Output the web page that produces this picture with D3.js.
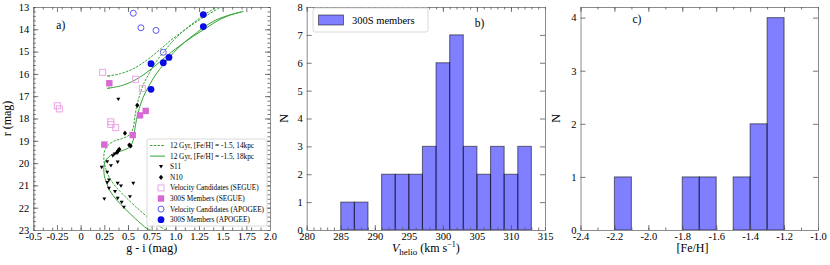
<!DOCTYPE html>
<html>
<head>
<meta charset="utf-8">
<script src="https://cdn.jsdelivr.net/npm/d3@7"></script>
<style>
body { margin: 0; background: #fff; }
svg text { font-family: "Liberation Serif", "DejaVu Serif", serif; fill: #000; }
</style>
</head>
<body>
<div id="chart"></div>
<script>
// ---------- panel a) colour-magnitude diagram (g-i, r) ----------
var s11 = [[0.398,17.14],[0.281,19.94],[0.32,20.12],[0.391,19.96],[0.222,20.19],[0.281,20.41],
    [0.299,20.76],[0.281,20.88],[0.391,20.91],[0.426,21.03],[0.556,20.91],[0.299,21.13],[0.363,21.28],
    [0.521,21.51],[0.391,21.58],[0.25,21.61],[0.433,21.76],[0.457,21.98],[0.36,19.6],[0.34,19.68]];
var n10 = [[0.598,17.41],[0.468,18.66],[0.514,19.19],[0.528,19.23],[0.408,19.38],[0.398,19.44],[0.384,19.52]];
var segueCand = [[0.233,15.93],[0.581,16.24],[0.651,16.66],[-0.246,17.43],[-0.225,17.57],
    [0.317,18.15],[0.32,18.27],[0.37,18.41]];
var segueMem = [[0.303,16.42],[0.627,17.86],[0.687,17.66],[0.55,18.74],[0.25,19.17]];
var apogeeCand = [[0.556,13.28],[0.637,13.93],[0.796,14.05],[0.873,15.03]];
var apogeeMem = [[1.296,13.34],[1.296,13.88],[0.743,15.54],[0.873,15.5],[0.933,15.26],[0.743,16.69]];

// isochrones: main sequence + RGB, and HB/AGB, for 14 kpc (dashed) and 18 kpc (solid)
var iso14Rgb = [[0.9,23.0],[0.8,22.75],[0.7,22.4],[0.58,21.95],[0.47,21.5],[0.38,21.1],[0.31,20.7],
    [0.27,20.3],[0.25,20.0],[0.245,19.75],[0.25,19.5],[0.28,19.25],[0.35,19.02],[0.45,18.88],
    [0.52,18.72],[0.555,18.42],[0.57,18.0],[0.59,17.5],[0.62,17.0],[0.66,16.5],[0.72,16.0],
    [0.79,15.5],[0.88,15.0],[0.98,14.5],[1.1,14.02],[1.22,13.62],[1.3,13.36],[1.44,13.0]];
var iso14Hb = [[0.31,16.08],[0.28,16.1],[0.42,15.99],[0.55,15.78],[0.7,15.38],[0.84,14.9],[0.95,14.5],
    [1.05,14.18],[1.19,13.76],[1.33,13.38],[1.48,13.0]];
var iso18Rgb = [[0.74,23.0],[0.7,22.93],[0.58,22.5],[0.47,22.05],[0.38,21.65],[0.31,21.25],[0.27,20.85],
    [0.25,20.55],[0.245,20.3],[0.25,20.05],[0.28,19.8],[0.35,19.57],[0.45,19.43],[0.52,19.27],
    [0.555,18.97],[0.57,18.55],[0.59,18.05],[0.62,17.55],[0.66,17.05],[0.72,16.55],[0.79,16.05],
    [0.88,15.55],[0.98,15.05],[1.1,14.57],[1.22,14.17],[1.3,13.91],[1.42,13.6],[1.55,13.39],[1.72,13.2]];
var iso18Hb = [[0.31,16.63],[0.28,16.65],[0.42,16.54],[0.55,16.33],[0.7,15.93],[0.84,15.45],[0.95,15.05],
    [1.05,14.73],[1.19,14.31],[1.33,13.93],[1.47,13.56],[1.6,13.33],[1.7,13.22]];

var aXTicks = [-0.5,-0.25,0,0.25,0.5,0.75,1.0,1.25,1.5,1.75,2.0];
var aXTickLabels = ["-0.5","-0.25","0","0.25","0.5","0.75","1.0","1.25","1.5","1.75","2.0"];
var aYTicks = [13,14,15,16,17,18,19,20,21,22,23];

// ---------- panel b) velocity histogram ----------
var vBinStart = [285,287,291,293,295,297,299,301,303,305,307,309,311];
var vCounts = [1,1,2,2,2,3,6,7,3,2,3,2,3];
var vBinWidth = 2;
var bXTicks = [280,285,290,295,300,305,310,315];
var bYTicks = [0,1,2,3,4,5,6,7,8];

// ---------- panel c) metallicity histogram ----------
var fehBinStart = [-2.2,-1.8,-1.7,-1.5,-1.4,-1.3];
var fehCounts = [1,1,1,1,2,4];
var fehBinWidth = 0.1;
var cXTicks = [-2.4,-2.2,-2.0,-1.8,-1.6,-1.4,-1.2,-1.0];
var cXTickLabels = ["-2.4","-2.2","-2.0","-1.8","-1.6","-1.4","-1.2","-1.0"];
var cYTicks = [0,1,2,3,4];

var W = 830, H = 265;
var svg = d3.select("#chart").append("svg")
    .attr("width", W).attr("height", H);

var tickFont = "10.5px", labelFont = "12px";

function range(a, b, step) {
    var out = [];
    var n = Math.round((b - a) / step);
    for (var i = 0; i <= n; i++) out.push(+(a + i * step).toFixed(6));
    return out;
}

// frame with inward ticks on all four sides
function drawFrame(g, x, y, w, h, o) {
    g.append("g").attr("transform", "translate(0," + h + ")")
        .call(d3.axisBottom(x).tickValues(o.xTicks).tickSize(-5).tickSizeOuter(0).tickPadding(3)
            .tickFormat(function (d, i) { return o.xLabels[i]; }));
    g.append("g")
        .call(d3.axisLeft(y).tickValues(o.yTicks).tickSize(-5).tickSizeOuter(0).tickPadding(4)
            .tickFormat(function (d, i) { return o.yLabels[i]; }));
    g.append("g")
        .call(d3.axisTop(x).tickValues(o.xTicks).tickSize(-5).tickSizeOuter(0).tickFormat(""));
    g.append("g").attr("transform", "translate(" + w + ",0)")
        .call(d3.axisRight(y).tickValues(o.yTicks).tickSize(-5).tickSizeOuter(0).tickFormat(""));
    if (o.xMinor) {
        g.append("g").attr("transform", "translate(0," + h + ")")
            .call(d3.axisBottom(x).tickValues(o.xMinor).tickSize(-2.5).tickSizeOuter(0).tickFormat(""));
        g.append("g")
            .call(d3.axisTop(x).tickValues(o.xMinor).tickSize(-2.5).tickSizeOuter(0).tickFormat(""));
    }
    if (o.yMinor) {
        g.append("g")
            .call(d3.axisLeft(y).tickValues(o.yMinor).tickSize(-2.5).tickSizeOuter(0).tickFormat(""));
        g.append("g").attr("transform", "translate(" + w + ",0)")
            .call(d3.axisRight(y).tickValues(o.yMinor).tickSize(-2.5).tickSizeOuter(0).tickFormat(""));
    }
    g.selectAll(".domain").attr("stroke", "#8c8c8c").attr("stroke-width", 1);
    g.selectAll(".tick line").attr("stroke", "#555").attr("stroke-width", 0.8);
    g.selectAll(".tick text").style("font-size", tickFont)
        .style("font-family", "'Liberation Serif', serif").attr("fill", "#000");
}

function trianglePath(cx, cy, s) {
    return "M" + (cx - s) + "," + (cy - s * 0.8) + "L" + (cx + s) + "," + (cy - s * 0.8) +
        "L" + cx + "," + (cy + s * 0.9) + "Z";
}
function diamondPath(cx, cy, s) {
    return "M" + cx + "," + (cy - s) + "L" + (cx + s * 0.8) + "," + cy + "L" + cx + "," + (cy + s) +
        "L" + (cx - s * 0.8) + "," + cy + "Z";
}

var green = "#36a336";
var pink = "#d868d4";
var pinkLight = "#e9a6e6";
var blue = "#0a0ae6";
var blueLight = "#5a5af0";

// ================= panel a =================
(function () {
    var left = 33.3, top = 7, w = 270 - 33.3, h = 230 - 7;
    var g = svg.append("g").attr("transform", "translate(" + left + "," + top + ")");
    var x = d3.scaleLinear().domain([-0.5, 2.0]).range([0, w]);
    var y = d3.scaleLinear().domain([13, 23]).range([0, h]);

    var clip = g.append("clipPath").attr("id", "clipA");
    clip.append("rect").attr("width", w).attr("height", h);
    var plot = g.append("g").attr("clip-path", "url(#clipA)");

    var line = d3.line().x(function (d) { return x(d[0]); }).y(function (d) { return y(d[1]); })
        .curve(d3.curveCatmullRom.alpha(0.5));
    [iso14Rgb, iso14Hb].forEach(function (p) {
        plot.append("path").attr("d", line(p)).attr("fill", "none").attr("stroke", green)
            .attr("stroke-width", 1).attr("stroke-dasharray", "2.5,1.2");
    });
    [iso18Rgb, iso18Hb].forEach(function (p) {
        plot.append("path").attr("d", line(p)).attr("fill", "none").attr("stroke", green)
            .attr("stroke-width", 1);
    });

    plot.selectAll(".s11").data(s11).enter().append("path")
        .attr("d", function (d) { return trianglePath(x(d[0]), y(d[1]), 2); })
        .attr("fill", "#000");
    plot.selectAll(".n10").data(n10).enter().append("path")
        .attr("d", function (d) { return diamondPath(x(d[0]), y(d[1]), 2.6); })
        .attr("fill", "#000");
    plot.selectAll(".sc").data(segueCand).enter().append("rect")
        .attr("x", function (d) { return x(d[0]) - 3; }).attr("y", function (d) { return y(d[1]) - 3; })
        .attr("width", 6).attr("height", 6).attr("fill", "none").attr("stroke", pinkLight).attr("stroke-width", 1);
    plot.selectAll(".sm").data(segueMem).enter().append("rect")
        .attr("x", function (d) { return x(d[0]) - 3.2; }).attr("y", function (d) { return y(d[1]) - 3.2; })
        .attr("width", 6.4).attr("height", 6.4).attr("fill", pink);
    plot.selectAll(".ac").data(apogeeCand).enter().append("circle")
        .attr("cx", function (d) { return x(d[0]); }).attr("cy", function (d) { return y(d[1]); })
        .attr("r", 3).attr("fill", "none").attr("stroke", blueLight).attr("stroke-width", 1);
    plot.selectAll(".am").data(apogeeMem).enter().append("circle")
        .attr("cx", function (d) { return x(d[0]); }).attr("cy", function (d) { return y(d[1]); })
        .attr("r", 3.4).attr("fill", blue);

    drawFrame(g, x, y, w, h, {
        xTicks: aXTicks, xLabels: aXTickLabels, xMinor: range(-0.5, 2.0, 0.1),
        yTicks: aYTicks, yLabels: aYTicks.map(String), yMinor: range(13, 23, 0.2)
    });

    g.append("text").attr("x", 23).attr("y", 22).style("font-size", "11.5px").text("a)");
    g.append("text").attr("x", w / 2).attr("y", 245).attr("text-anchor", "middle")
        .style("font-size", labelFont).text("g - i (mag)");
    g.append("text").attr("transform", "translate(-22.5," + (h / 2) + ")rotate(-90)")
        .attr("text-anchor", "middle").style("font-size", labelFont).text("r (mag)");

    // legend
    var lg = svg.append("g").attr("transform", "translate(147,139)");
    lg.append("rect").attr("width", 120).attr("height", 87).attr("rx", 2)
        .attr("fill", "#fff").attr("fill-opacity", 0.85).attr("stroke", "#d0d0d0").attr("stroke-width", 0.8);
    var items = ["12 Gyr, [Fe/H] = -1.5, 14kpc", "12 Gyr, [Fe/H] = -1.5, 18kpc", "S11", "N10",
        "Velocity Candidates (SEGUE)", "300S Members (SEGUE)", "Velocity Candidates (APOGEE)", "300S Members (APOGEE)"];
    items.forEach(function (t, i) {
        var cy = 6.5 + i * 10.6;
        if (i == 0 || i == 1) {
            lg.append("line").attr("x1", 3).attr("x2", 18).attr("y1", cy).attr("y2", cy)
                .attr("stroke", green).attr("stroke-width", 1)
                .attr("stroke-dasharray", i == 0 ? "2.5,1.2" : null);
        } else if (i == 2) {
            lg.append("path").attr("d", trianglePath(14, cy, 2)).attr("fill", "#000");
        } else if (i == 3) {
            lg.append("path").attr("d", diamondPath(14, cy, 2.6)).attr("fill", "#000");
        } else if (i == 4) {
            lg.append("rect").attr("x", 11).attr("y", cy - 3).attr("width", 6).attr("height", 6)
                .attr("fill", "none").attr("stroke", pinkLight);
        } else if (i == 5) {
            lg.append("rect").attr("x", 10.8).attr("y", cy - 3.2).attr("width", 6.4).attr("height", 6.4)
                .attr("fill", pink);
        } else if (i == 6) {
            lg.append("circle").attr("cx", 14).attr("cy", cy).attr("r", 3)
                .attr("fill", "none").attr("stroke", blueLight);
        } else {
            lg.append("circle").attr("cx", 14).attr("cy", cy).attr("r", 3.4).attr("fill", blue);
        }
        lg.append("text").attr("x", 23).attr("y", cy + 2.5).style("font-size", "7.3px").text(t);
    });
})();

// histogram helper
function drawHist(left, right, xDom, yDom, starts, counts, bw, o) {
    var top = 7, w = right - left, h = 230 - 7;
    var g = svg.append("g").attr("transform", "translate(" + left + "," + top + ")");
    var x = d3.scaleLinear().domain(xDom).range([0, w]);
    var y = d3.scaleLinear().domain(yDom).range([h, 0]);
    g.selectAll(".bar").data(starts).enter().append("rect")
        .attr("x", function (d) { return x(d); })
        .attr("y", function (d, i) { return y(counts[i]); })
        .attr("width", function (d) { return x(d + bw) - x(d); })
        .attr("height", function (d, i) { return y(0) - y(counts[i]); })
        .attr("fill", "rgba(0,0,255,0.5)")
        .attr("stroke", "rgba(0,0,0,0.5)").attr("stroke-width", 1.1);
    drawFrame(g, x, y, w, h, o);
    return g;
}

// ================= panel b =================
(function () {
    var g = drawHist(306.7, 545, [280, 315], [0, 8], vBinStart, vCounts, vBinWidth, {
        xTicks: bXTicks, xLabels: bXTicks.map(String), xMinor: range(280, 315, 1),
        yTicks: bYTicks, yLabels: bYTicks.map(String)
    });
    var w = 545 - 306.7;
    g.append("text").attr("x", 168).attr("y", 20).style("font-size", "11.5px").text("b)");
    var t = g.append("text").attr("x", w / 2).attr("y", 244.5).attr("text-anchor", "middle")
        .style("font-size", labelFont);
    t.append("tspan").style("font-style", "italic").text("V");
    t.append("tspan").attr("dy", 3).style("font-size", "9px").text("helio");
    t.append("tspan").attr("dy", -3).text(" (km s");
    t.append("tspan").attr("dy", -4.5).style("font-size", "8px").text("\u22121");
    t.append("tspan").attr("dy", 4.5).text(")");
    g.append("text").attr("transform", "translate(-19,111.5)rotate(-90)")
        .attr("text-anchor", "middle").style("font-size", labelFont).text("N");

    // legend
    var lg = svg.append("g").attr("transform", "translate(313,8)");
    lg.append("rect").attr("width", 115).attr("height", 24).attr("rx", 2)
        .attr("fill", "#fff").attr("stroke", "#d0d0d0").attr("stroke-width", 0.8);
    lg.append("rect").attr("x", 5.5).attr("y", 7).attr("width", 25).attr("height", 10)
        .attr("fill", "rgba(0,0,255,0.5)").attr("stroke", "rgba(0,0,0,0.5)");
    lg.append("text").attr("x", 39).attr("y", 16).style("font-size", "10.5px").text("300S members");
})();

// ================= panel c =================
(function () {
    var g = drawHist(580.5, 818, [-2.4, -1.0], [0, 4.2], fehBinStart, fehCounts, fehBinWidth, {
        xTicks: cXTicks, xLabels: cXTickLabels, xMinor: range(-2.4, -1.0, 0.1),
        yTicks: cYTicks, yLabels: cYTicks.map(String)
    });
    g.append("text").attr("x", 52).attr("y", 16).style("font-size", "11.5px").text("c)");
    g.append("text").attr("x", 112).attr("y", 245).attr("text-anchor", "middle")
        .style("font-size", labelFont).text("[Fe/H]");
    g.append("text").attr("transform", "translate(-21,111.5)rotate(-90)")
        .attr("text-anchor", "middle").style("font-size", labelFont).text("N");
})();
</script>
</body>
</html>
